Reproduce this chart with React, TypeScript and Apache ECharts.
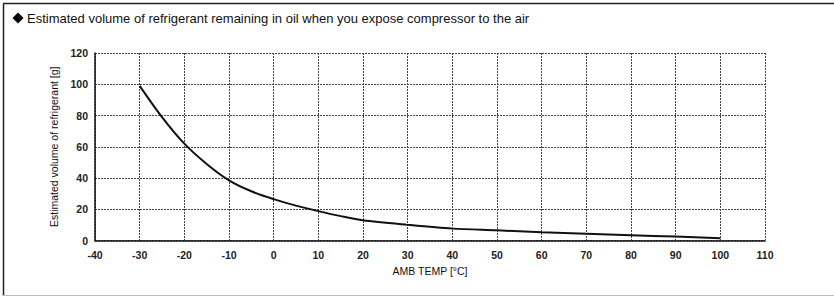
import React, { useEffect, useRef } from "react";
import * as echarts from "echarts";

const TITLE = "Estimated volume of refrigerant remaining in oil when you expose compressor to the air";
const X_NAME = "AMB TEMP [°C]";
const Y_NAME = "Estimated volume of refrigerant [g]";

const temps = [-30, -25, -20, -15, -10, -5, 0, 5, 10, 15, 20, 30, 40, 50, 60, 70, 80, 90, 100];
const volumes = [99, 79, 62, 49, 38.5, 31.5, 26.5, 22.3, 18.8, 15.6, 12.9, 10, 7.6, 6.5, 5.3, 4.3, 3.4, 2.5, 1.5];

const X_MIN = -40;
const X_MAX = 110;
const X_STEP = 10;
const Y_MIN = 0;
const Y_MAX = 120;
const Y_STEP = 20;

export default function App() {
  const ref = useRef<HTMLDivElement>(null);

  useEffect(() => {
    document.body.style.margin = "0";
    if (!ref.current) return;
    const chart = echarts.init(ref.current, null, { renderer: "svg" });
    const font = "'Liberation Sans', Arial, sans-serif";
    const gridLine = { show: true, lineStyle: { color: "#444", width: 1, type: [2, 1] as any } };
    chart.setOption({
      animation: false,
      backgroundColor: "#fff",
      grid: { left: 95, right: 69, top: 53, bottom: 57.5, containLabel: false },
      xAxis: {
        type: "value",
        min: X_MIN,
        max: X_MAX,
        interval: X_STEP,
        name: X_NAME,
        nameLocation: "middle",
        nameGap: 25,
        nameTextStyle: { fontFamily: font, fontSize: 10.5, color: "#111" },
        axisLine: { show: true, onZero: false, lineStyle: { color: "#111", width: 1.5 } },
        axisTick: { show: false },
        axisLabel: { fontFamily: font, fontSize: 10.5, fontWeight: "bold", color: "#222", margin: 9 },
        splitLine: gridLine,
      },
      yAxis: {
        type: "value",
        min: Y_MIN,
        max: Y_MAX,
        interval: Y_STEP,
        name: Y_NAME,
        nameLocation: "middle",
        nameRotate: 90,
        nameGap: 28,
        nameTextStyle: { fontFamily: font, fontSize: 10.5, color: "#111" },
        axisLine: { show: true, onZero: false, lineStyle: { color: "#111", width: 1.5 } },
        axisTick: { show: false },
        axisLabel: { fontFamily: font, fontSize: 10.5, fontWeight: "bold", color: "#222", margin: 7 },
        splitLine: gridLine,
      },
      series: [
        {
          type: "line",
          data: temps.map((t, i) => [t, volumes[i]]),
          smooth: 0.3,
          showSymbol: false,
          lineStyle: { color: "#111", width: 2 },
        },
      ],
      graphic: [
        { type: "line", shape: { x1: 3.5, y1: 4, x2: 3.5, y2: 296 }, style: { stroke: "#222", lineWidth: 1.5 } },
        { type: "line", shape: { x1: 3, y1: 3.5, x2: 834, y2: 3.5 }, style: { stroke: "#222", lineWidth: 1.5 } },
        { type: "line", shape: { x1: 3, y1: 295.5, x2: 834, y2: 295.5 }, style: { stroke: "#bbb", lineWidth: 1 } },
        {
          type: "polygon",
          shape: { points: [[18, 12.5], [23.5, 18], [18, 23.5], [12.5, 18]] },
          style: { fill: "#000" },
        },
        {
          type: "text",
          x: 27,
          y: 18,
          style: {
            text: TITLE,
            font: "13px " + font,
            fill: "#111",
            textVerticalAlign: "middle",
          },
        },
      ],
    });
    return () => chart.dispose();
  }, []);

  return <div ref={ref} style={{ width: 834, height: 298 }} />;
}
